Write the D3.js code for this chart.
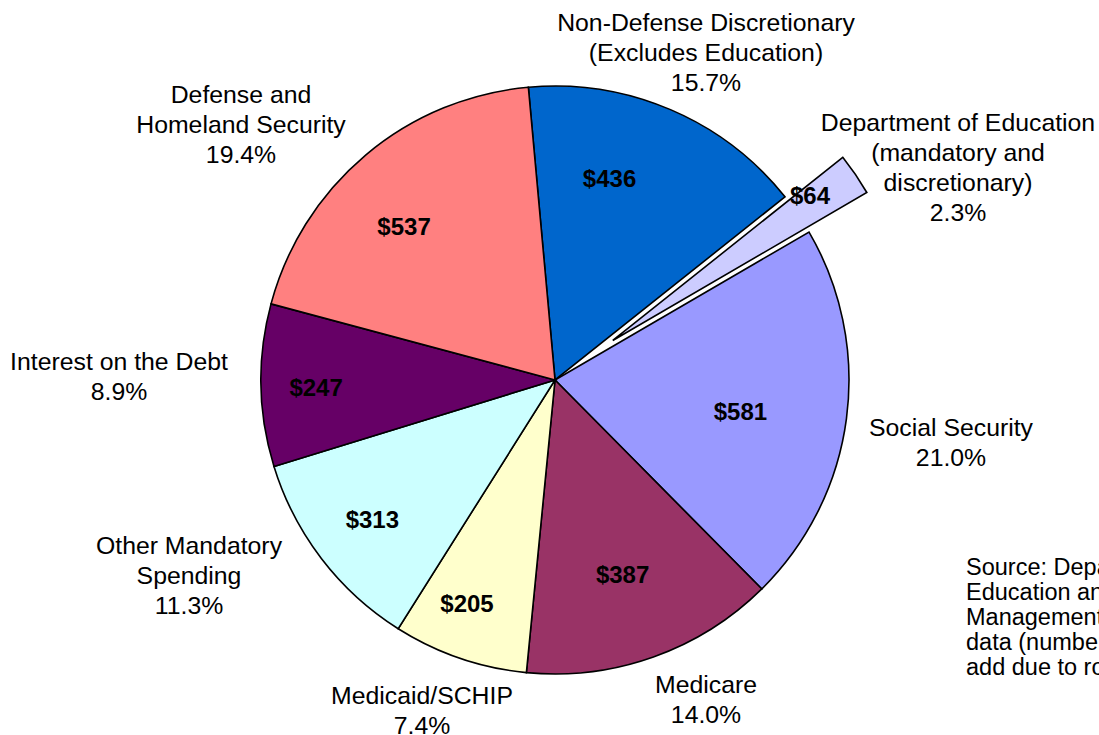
<!DOCTYPE html>
<html>
<head>
<meta charset="utf-8">
<script src="https://cdn.jsdelivr.net/npm/d3@7"></script>
<style>
  html, body { margin: 0; padding: 0; background: #fff; overflow: hidden; }
  svg { display: block; }
  text { font-family: "Liberation Sans", Arial, Helvetica, sans-serif; fill: #000; }
</style>
</head>
<body>
<svg id="chart" width="1099" height="735"></svg>
<script>
// Federal outlays by category (billions of dollars)
const categories = [
  "Non-Defense Discretionary",
  "Department of Education",
  "Social Security",
  "Medicare",
  "Medicaid/SCHIP",
  "Other Mandatory Spending",
  "Interest on the Debt",
  "Defense and Homeland Security"
];
const outlays = [436, 64, 581, 387, 205, 313, 247, 537];
const shares = ["15.7%", "2.3%", "21.0%", "14.0%", "7.4%", "11.3%", "8.9%", "19.4%"];
const categoryLines = [
  ["Non-Defense Discretionary", "(Excludes Education)"],
  ["Department of Education", "(mandatory and", "discretionary)"],
  ["Social Security"],
  ["Medicare"],
  ["Medicaid/SCHIP"],
  ["Other Mandatory", "Spending"],
  ["Interest on the Debt"],
  ["Defense and", "Homeland Security"]
];
const sliceColors = ["#0066CC", "#CCCCFF", "#9999FF", "#993366", "#FFFFCC", "#CCFFFF", "#660066", "#FF8080"];
const sourceLines = [
  "Source: Department of",
  "Education and Office of",
  "Management and Budget",
  "data (numbers may not",
  "add due to rounding)"
];

// Layout
const cx = 555, cy = 380, radius = 294;
const explodedIndex = 1, explodeDist = 70;
const startDeg = -5.2;
// category label anchor (centre x, first baseline y)
const categoryLabelPos = [
  [706, 31], [958, 131], [951, 436], [706, 693],
  [422, 704], [189, 554], [119, 370], [241, 103]
];
// value label placement: angle nudge (deg) from slice middle, distance from slice apex
const valueLabelPolar = [
  [-8, 209], [-2, 245], [2, 188], [0.4, 206],
  [2.6, 240], [0, 230], [-0.7, 239], [-4.5, 215]
];
const lineGap = 30;

const svg = d3.select("#chart");
const g = svg.append("g").attr("transform", `translate(${cx},${cy})`);

const toRad = d => d * Math.PI / 180;
const pie = d3.pie().sort(null).value(d => d)
  .startAngle(toRad(startDeg)).endAngle(toRad(startDeg) + 2 * Math.PI);
const arcs = pie(outlays);
const arc = d3.arc().innerRadius(0).outerRadius(radius);

const offsetOf = (d, i) => {
  if (i !== explodedIndex) return [0, 0];
  const mid = (d.startAngle + d.endAngle) / 2;
  return [explodeDist * Math.sin(mid), -explodeDist * Math.cos(mid)];
};

const slices = g.selectAll("g.slice").data(arcs).join("g")
  .attr("class", "slice")
  .attr("transform", (d, i) => { const o = offsetOf(d, i); return `translate(${o[0]},${o[1]})`; });

slices.append("path")
  .attr("d", arc)
  .attr("fill", (d, i) => sliceColors[i])
  .attr("stroke", "#000")
  .attr("stroke-width", 1.6)
  .attr("stroke-linejoin", "miter");

// dollar values inside slices
slices.append("text")
  .attr("x", (d, i) => {
    const a = (d.startAngle + d.endAngle) / 2 + toRad(valueLabelPolar[i][0]);
    return valueLabelPolar[i][1] * Math.sin(a);
  })
  .attr("y", (d, i) => {
    const a = (d.startAngle + d.endAngle) / 2 + toRad(valueLabelPolar[i][0]);
    return -valueLabelPolar[i][1] * Math.cos(a);
  })
  .attr("text-anchor", "middle")
  .attr("dy", "0.35em")
  .style("font-size", "24px")
  .style("font-weight", "bold")
  .text(d => "$" + d.value);

// category names with shares
const labels = svg.append("g").selectAll("text").data(categories).join("text")
  .attr("text-anchor", "middle")
  .style("font-size", "24.8px")
  .attr("x", (d, i) => categoryLabelPos[i][0])
  .attr("y", (d, i) => categoryLabelPos[i][1]);
labels.each(function (d, i) {
  const t = d3.select(this);
  const lines = categoryLines[i].concat([shares[i]]);
  lines.forEach((ln, k) => {
    t.append("tspan")
      .attr("x", categoryLabelPos[i][0])
      .attr("dy", k === 0 ? 0 : lineGap)
      .text(ln);
  });
});

// source note
const src = svg.append("text")
  .attr("x", 966).attr("y", 575)
  .style("font-size", "23.5px");
sourceLines.forEach((ln, k) => {
  src.append("tspan").attr("x", 966).attr("dy", k === 0 ? 0 : 25).text(ln);
});
</script>
</body>
</html>
